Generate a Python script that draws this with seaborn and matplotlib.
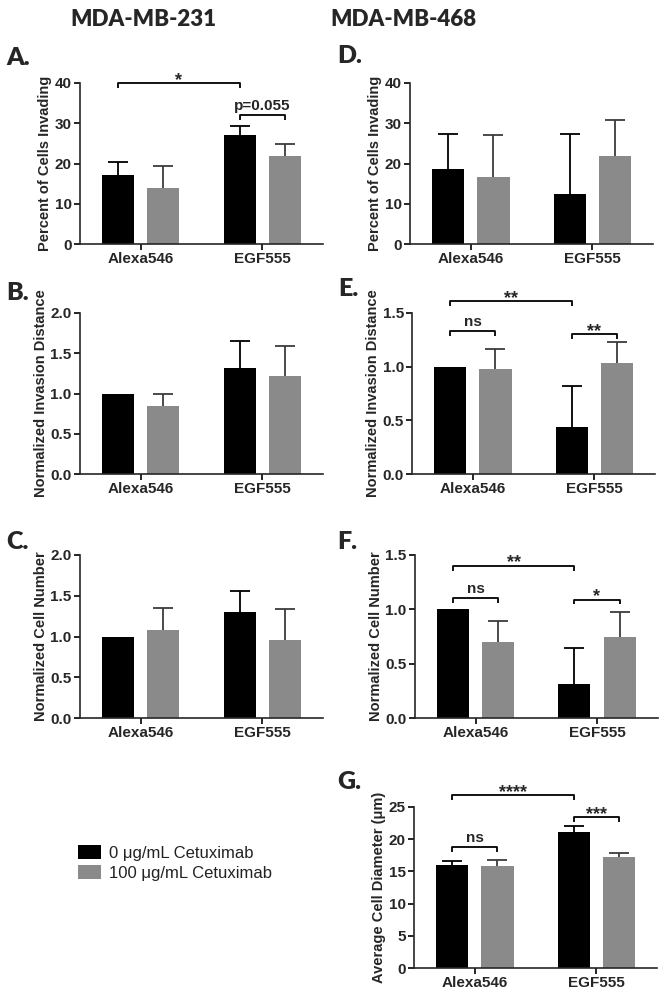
import pandas as pd
import matplotlib.pyplot as plt
import seaborn as sns
from matplotlib.patches import Patch

# Categories and legend labels
stains = ['Alexa546', 'EGF555']
treatments = ['0 \u03bcg/mL Cetuximab', '100 \u03bcg/mL Cetuximab']
colors = {treatments[0]: '#000000', treatments[1]: '#8a8a8a'}
err_colors = ['#000000', '#3c3c3c']

# A. MDA-MB-231 percent of cells invading
inv231_ctrl = [17.1, 27.0]
inv231_cetux = [13.9, 21.8]
inv231_ctrl_err = [3.3, 2.4]
inv231_cetux_err = [5.4, 3.0]

# D. MDA-MB-468 percent of cells invading
inv468_ctrl = [18.6, 12.5]
inv468_cetux = [16.6, 21.9]
inv468_ctrl_err = [8.7, 14.9]
inv468_cetux_err = [10.5, 8.9]

# B. MDA-MB-231 normalized invasion distance
dist231_ctrl = [1.0, 1.32]
dist231_cetux = [0.84, 1.22]
dist231_ctrl_err = [0.0, 0.33]
dist231_cetux_err = [0.15, 0.37]

# E. MDA-MB-468 normalized invasion distance
dist468_ctrl = [1.0, 0.44]
dist468_cetux = [0.98, 1.03]
dist468_ctrl_err = [0.0, 0.38]
dist468_cetux_err = [0.18, 0.20]

# C. MDA-MB-231 normalized cell number
num231_ctrl = [1.0, 1.30]
num231_cetux = [1.08, 0.96]
num231_ctrl_err = [0.0, 0.26]
num231_cetux_err = [0.275, 0.38]

# F. MDA-MB-468 normalized cell number
num468_ctrl = [1.0, 0.31]
num468_cetux = [0.70, 0.75]
num468_ctrl_err = [0.0, 0.33]
num468_cetux_err = [0.19, 0.23]

# G. MDA-MB-468 average cell diameter
diam468_ctrl = [16.0, 21.1]
diam468_cetux = [15.9, 17.2]
diam468_ctrl_err = [0.6, 0.9]
diam468_cetux_err = [0.9, 0.65]

# significance brackets: (bar1, bar2, height, label), bar = (treatment idx, stain idx)
brackets_a = [((0, 0), (0, 1), 40, '*'), ((0, 1), (1, 1), 32, 'p=0.055')]
brackets_e = [((0, 0), (0, 1), 1.61, '**'), ((0, 0), (1, 0), 1.33, 'ns'),
              ((0, 1), (1, 1), 1.30, '**')]
brackets_f = [((0, 0), (0, 1), 1.40, '**'), ((0, 0), (1, 0), 1.10, 'ns'),
              ((0, 1), (1, 1), 1.09, '*')]
brackets_g = [((0, 0), (0, 1), 26.8, '****'), ((0, 0), (1, 0), 18.8, 'ns'),
              ((0, 1), (1, 1), 23.4, '***')]

sns.set_theme(style='ticks')
plt.rcParams['font.family'] = ['Liberation Sans', 'DejaVu Sans']
plt.rcParams['axes.linewidth'] = 1.2


def draw_panel(ax, ctrl, cetux, ctrl_err, cetux_err, ylabel, ymax, step, fmt, brackets=()):
    df = pd.DataFrame({
        'Stain': stains * 2,
        'Value': ctrl + cetux,
        'Treatment': [treatments[0]] * 2 + [treatments[1]] * 2,
    })
    sns.barplot(data=df, x='Stain', y='Value', hue='Treatment', hue_order=treatments,
                palette=colors, width=0.744, gap=0.29, errorbar=None, legend=False,
                saturation=1, linewidth=0, ax=ax)

    errs = [ctrl_err, cetux_err]
    centers = {}
    bar_groups = list(ax.containers)
    for i, cont in enumerate(bar_groups):
        for j, bar in enumerate(cont):
            x = bar.get_x() + bar.get_width() / 2
            h = bar.get_height()
            centers[(i, j)] = x
            if errs[i][j] > 0:
                _, caps, _ = ax.errorbar(x, h, yerr=[[0], [errs[i][j]]], fmt='none',
                                         ecolor=err_colors[i], elinewidth=1.3, capsize=7,
                                         capthick=1.3, zorder=0.5)
                # one-sided bars: drop the cap sitting on the bar top
                for cap in caps:
                    if abs(cap.get_ydata()[0] - h) < 1e-9:
                        cap.set_visible(False)

    tick_len = ymax * 0.03
    for b1, b2, h, label in brackets:
        x1, x2 = centers[b1], centers[b2]
        ax.plot([x1, x1, x2, x2], [h - tick_len, h, h, h - tick_len], color='black',
                lw=1.3, clip_on=False, solid_capstyle='butt')
        star = label.startswith('*')
        ax.text((x1 + x2) / 2, h + (-ymax * 0.035 if star else ymax * 0.015), label,
                ha='center', va='bottom', fontsize=13 if star else 11,
                fontweight='bold', clip_on=False)

    ax.set_xlim(-0.5, 1.5)
    ax.set_ylim(0, ymax)
    ticks = [k * step for k in range(int(round(ymax / step)) + 1)]
    ax.set_yticks(ticks)
    ax.set_yticklabels([fmt.format(t) for t in ticks])
    ax.set_xlabel('')
    ax.set_ylabel(ylabel, fontsize=10.5, fontweight='bold', labelpad=2)
    ax.tick_params(axis='both', labelsize=11, width=1.2, length=4, pad=2, color='black')
    for lab in ax.get_xticklabels() + ax.get_yticklabels():
        lab.set_fontweight('bold')
    sns.despine(ax=ax)


fig = plt.figure(figsize=(6.67, 10), dpi=100)

ax_a = fig.add_axes([0.120, 0.756, 0.364, 0.161])
ax_d = fig.add_axes([0.615, 0.756, 0.364, 0.161])
ax_b = fig.add_axes([0.120, 0.526, 0.364, 0.161])
ax_e = fig.add_axes([0.618, 0.526, 0.364, 0.161])
ax_c = fig.add_axes([0.120, 0.282, 0.364, 0.163])
ax_f = fig.add_axes([0.622, 0.282, 0.364, 0.163])
ax_g = fig.add_axes([0.621, 0.032, 0.364, 0.161])

draw_panel(ax_a, inv231_ctrl, inv231_cetux, inv231_ctrl_err, inv231_cetux_err,
           'Percent of Cells Invading', 40, 10, '{:.0f}', brackets_a)
draw_panel(ax_d, inv468_ctrl, inv468_cetux, inv468_ctrl_err, inv468_cetux_err,
           'Percent of Cells Invading', 40, 10, '{:.0f}')
draw_panel(ax_b, dist231_ctrl, dist231_cetux, dist231_ctrl_err, dist231_cetux_err,
           'Normalized Invasion Distance', 2.0, 0.5, '{:.1f}')
draw_panel(ax_e, dist468_ctrl, dist468_cetux, dist468_ctrl_err, dist468_cetux_err,
           'Normalized Invasion Distance', 1.5, 0.5, '{:.1f}', brackets_e)
draw_panel(ax_c, num231_ctrl, num231_cetux, num231_ctrl_err, num231_cetux_err,
           'Normalized Cell Number', 2.0, 0.5, '{:.1f}')
draw_panel(ax_f, num468_ctrl, num468_cetux, num468_ctrl_err, num468_cetux_err,
           'Normalized Cell Number', 1.5, 0.5, '{:.1f}', brackets_f)
draw_panel(ax_g, diam468_ctrl, diam468_cetux, diam468_ctrl_err, diam468_cetux_err,
           'Average Cell Diameter (\u03bcm)', 25, 5, '{:.0f}', brackets_g)

# column titles and panel letters
fig.text(143 / 667, 1 - 19 / 1000, 'MDA-MB-231', ha='center', va='center',
         fontsize=16, fontweight='heavy', family='Lato')
fig.text(403 / 667, 1 - 19 / 1000, 'MDA-MB-468', ha='center', va='center',
         fontsize=16, fontweight='heavy', family='Lato')
letters = [('A.', 6, 58), ('D.', 337, 56), ('B.', 6, 293), ('E.', 338, 289),
           ('C.', 6, 542), ('F.', 337, 542), ('G.', 337, 782)]
for txt, px, py in letters:
    fig.text(px / 667, 1 - py / 1000, txt, ha='left', va='center',
             fontsize=18, fontweight='heavy', family='Lato')

handles = [Patch(facecolor=colors[t], edgecolor='none') for t in treatments]
fig.legend(handles, treatments, loc='upper left', bbox_to_anchor=(63 / 667, 1 - 830 / 1000),
           frameon=False, fontsize=12, handlelength=1.35, handleheight=0.95,
           handletextpad=0.5, labelspacing=0.25, labelcolor='#222222')

plt.savefig('out.png', dpi=100)
plt.close()
